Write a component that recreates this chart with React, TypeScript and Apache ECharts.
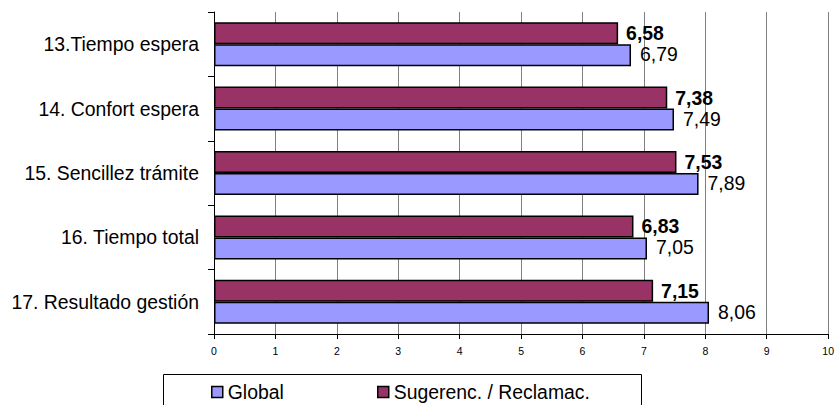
import React, { useEffect, useRef } from "react";
import * as echarts from "echarts";

const categories = [
  "13.Tiempo espera",
  "14. Confort espera",
  "15. Sencillez trámite",
  "16. Tiempo total",
  "17. Resultado gestión",
];
const globalValues = [6.79, 7.49, 7.89, 7.05, 8.06];
const sugerencValues = [6.58, 7.38, 7.53, 6.83, 7.15];
const seriesNames = ["Global", "Sugerenc. / Reclamac."];
const xTicks = [0, 1, 2, 3, 4, 5, 6, 7, 8, 9, 10];

const FONT = 'Arial, "Liberation Sans", sans-serif';
const BIG = 19.4;

const fmt = (v: number) => v.toFixed(2).replace(".", ",");

export default function App() {
  const ref = useRef<HTMLDivElement>(null);
  useEffect(() => {
    if (!ref.current) return;
    const chart = echarts.init(ref.current, null, { renderer: "svg" });
    const legendCommon = {
      top: 381,
      icon: "rect",
      itemWidth: 11,
      itemHeight: 11,
      padding: 0,
      itemStyle: { borderColor: "#000", borderWidth: 1.5 },
      textStyle: { color: "#000", fontSize: BIG, fontFamily: FONT, lineHeight: 22 },
    };
    chart.setOption({
      animation: false,
      backgroundColor: "#ffffff",
      textStyle: { fontFamily: FONT },
      grid: { left: 214, right: 7, top: 12, bottom: 71, containLabel: false },
      xAxis: {
        type: "value",
        min: xTicks[0],
        max: xTicks[xTicks.length - 1],
        interval: 1,
        axisLine: { show: true, lineStyle: { color: "#000", width: 1 } },
        axisTick: { show: true, length: 5, lineStyle: { color: "#000" } },
        axisLabel: { color: "#000", fontSize: 10.5, fontFamily: FONT, margin: 11 },
        splitLine: { show: true, lineStyle: { color: "#808080", width: 1 } },
      },
      yAxis: {
        type: "category",
        data: categories,
        inverse: true,
        axisLine: { show: true, lineStyle: { color: "#000", width: 1 } },
        axisTick: { show: true, length: 6, lineStyle: { color: "#000" } },
        axisLabel: { color: "#000", fontSize: BIG, fontFamily: FONT, margin: 15 },
        splitLine: { show: false },
      },
      legend: [
        { ...legendCommon, data: [seriesNames[0]], left: 211 },
        { ...legendCommon, data: [seriesNames[1]], left: 377 },
      ],
      graphic: [
        {
          type: "rect",
          left: 161,
          top: 372,
          shape: { width: 478, height: 50 },
          style: { fill: "none", stroke: "#000", lineWidth: 1 },
          z: -1,
        },
      ],
      series: [
        {
          name: seriesNames[1],
          type: "bar",
          data: sugerencValues,
          barWidth: 22,
          barGap: "0%",
          itemStyle: { color: "#993366", borderColor: "#000", borderWidth: 1.5 },
          label: {
            show: true,
            position: "right",
            distance: 8,
            color: "#000",
            fontWeight: "bold",
            fontSize: BIG,
            fontFamily: FONT,
            formatter: (p: any) => fmt(p.value),
          },
        },
        {
          name: seriesNames[0],
          type: "bar",
          data: globalValues,
          barWidth: 22,
          barGap: "0%",
          itemStyle: { color: "#9999FF", borderColor: "#000", borderWidth: 1.5 },
          label: {
            show: true,
            position: "right",
            distance: 9,
            offset: [0, -1],
            color: "#000",
            fontSize: BIG,
            fontFamily: FONT,
            formatter: (p: any) => fmt(p.value),
          },
        },
      ],
    });
    return () => chart.dispose();
  }, []);
  return (
    <div
      ref={ref}
      style={{ position: "fixed", left: 0, top: 0, width: 837, height: 405 }}
    />
  );
}
